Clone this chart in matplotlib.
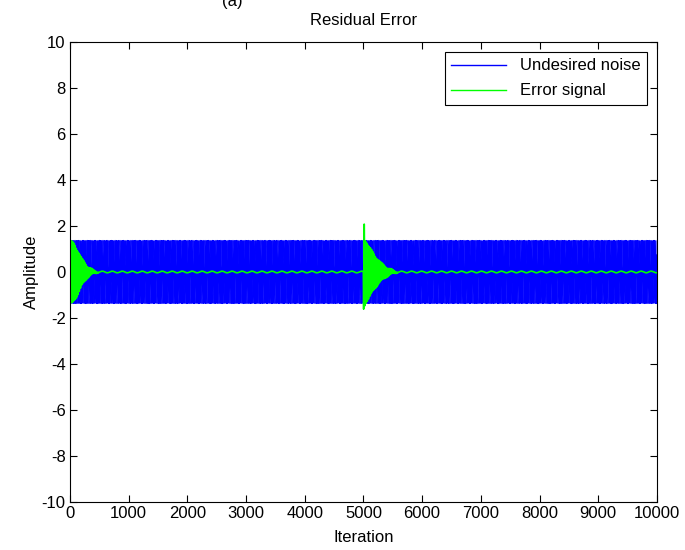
import numpy as np
import matplotlib
matplotlib.use("Agg")
import matplotlib.pyplot as plt

# values
n_iter = 10000
noise_amp = 1.38          # blue band half-height
noise_period = 20.7       # iterations per cycle (fast tone -> dense band)
ripple_amp = 0.035        # leftover wobble of the error signal
ripple_period = 170
# error-signal envelope knots (iteration, upper peak, lower peak)
env_t = [0, 50, 100, 150, 200, 300, 400, 500, 4999, 5000, 5012, 5030, 5100, 5200, 5300, 5400, 5500, 5600, 10000]
env_up = [1.35, 1.3, 1.1, 0.85, 0.6, 0.25, 0.08, 0.0, 0.0, 2.35, 2.2, 1.4, 1.1, 0.7, 0.4, 0.2, 0.08, 0.0, 0.0]
env_lo = [-1.4, -1.35, -1.15, -0.9, -0.6, -0.25, -0.08, 0.0, 0.0, -1.65, -1.6, -1.4, -1.1, -0.7, -0.4, -0.2, -0.08, 0.0, 0.0]

xticks = [0, 1000, 2000, 3000, 4000, 5000, 6000, 7000, 8000, 9000, 10000]
yticks = [-10, -8, -6, -4, -2, 0, 2, 4, 6, 8, 10]

plt.rcParams['font.family'] = ['Liberation Sans', 'DejaVu Sans']
plt.rcParams['axes.unicode_minus'] = False

t = np.arange(n_iter + 1)
phase = np.sin(2 * np.pi * t / noise_period)
noise = noise_amp * phase

up = np.interp(t, env_t, env_up)
lo = np.interp(t, env_t, env_lo)
err = np.where(phase >= 0, up * phase, -lo * phase)
err = err + ripple_amp * np.sin(2 * np.pi * t / ripple_period)

fig = plt.figure(figsize=(6.85, 5.5), dpi=100)
ax = fig.add_axes([0.102, 0.087, 0.857, 0.837])
ax.plot(t, noise, color='#0000ff', lw=0.5, label='Undesired noise')
ax.plot(t, err, color='#00ff00', lw=1.2, label='Error signal')

ax.set_xlim(0, 10000)
ax.set_ylim(-10, 10)
ax.set_xticks(xticks)
ax.set_yticks(yticks)
ax.tick_params(direction='in', top=True, right=True, labelsize=12, length=5, width=0.8, pad=3)
for s in ax.spines.values():
    s.set_linewidth(0.8)
ax.set_title('Residual Error', fontsize=12, pad=12)
ax.set_xlabel('Iteration', fontsize=12, labelpad=6)
ax.set_ylabel('Amplitude', fontsize=12, labelpad=2)

leg = ax.legend(loc='upper right', fontsize=12, fancybox=False, framealpha=1,
                edgecolor='black', borderaxespad=0.6, handlelength=3.3, labelspacing=0.6)
leg.get_frame().set_linewidth(0.8)
for h in leg.get_lines():
    h.set_linewidth(1.0)

fig.text(0.339, 0.997, '(a)', fontsize=12, ha='center', va='center')

fig.savefig('out.png', dpi=100)
